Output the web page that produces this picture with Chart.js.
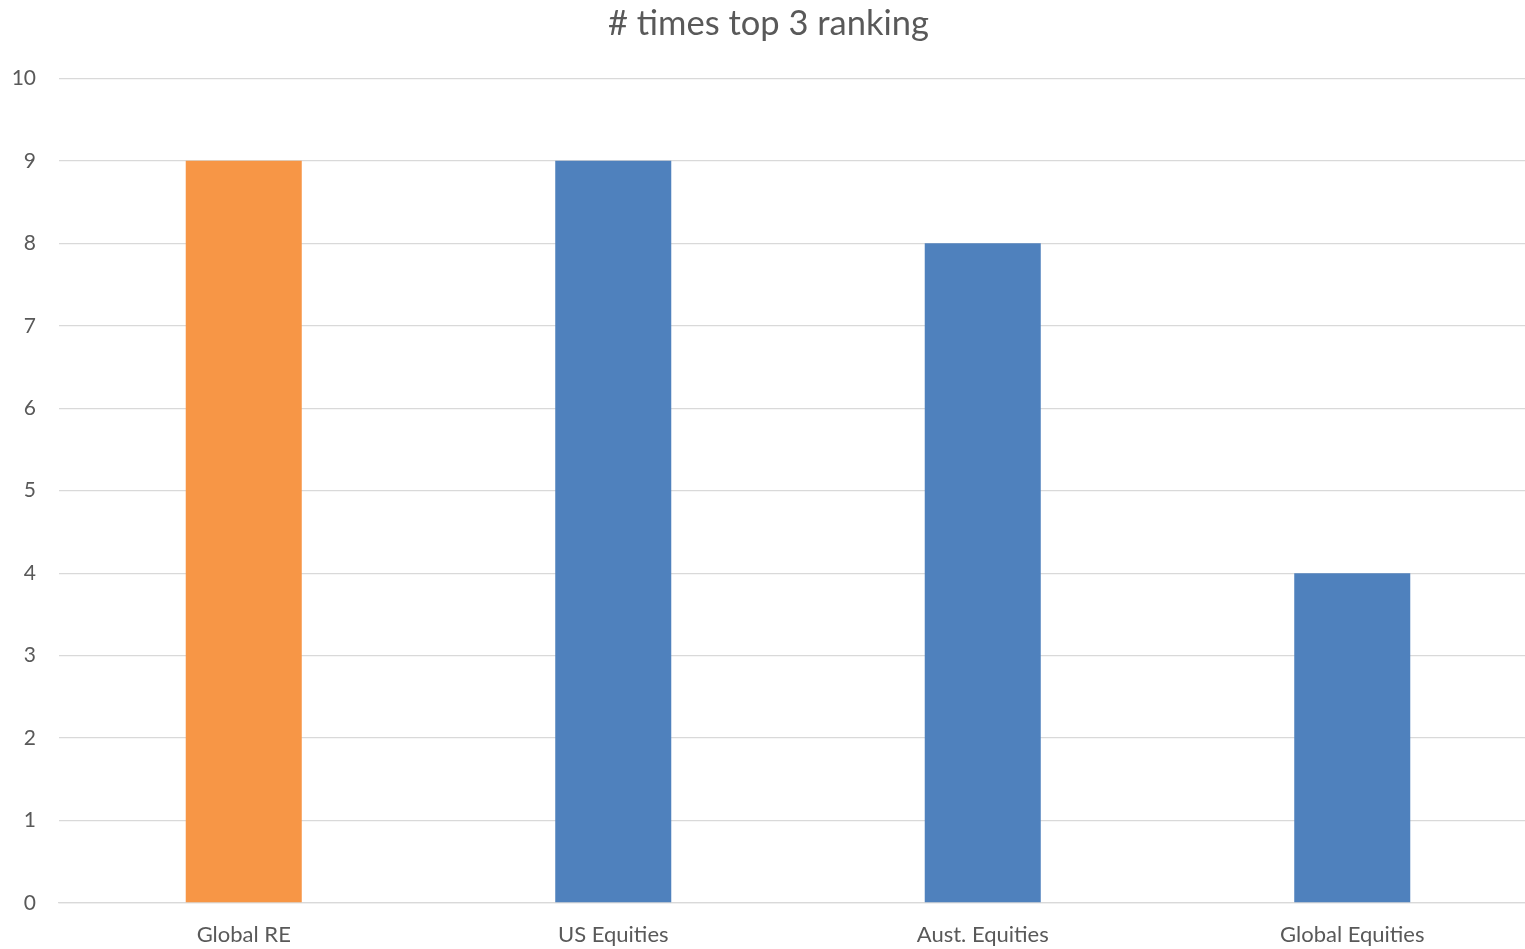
<!DOCTYPE html>
<html>
<head>
<meta charset="utf-8">
<script src="https://cdn.jsdelivr.net/npm/chart.js@4"></script>
<style>
  html, body { margin: 0; padding: 0; background: #fff; overflow: hidden; }
  #wrap { width: 1537px; height: 949px; position: relative; }
</style>
</head>
<body>
<div id="wrap"><canvas id="chart"></canvas></div>
<script>
var categories = ["Global RE", "US Equities", "Aust. Equities", "Global Equities"];
var topThreeCounts = [9, 9, 8, 4];
var barColors = ["#F79646", "#4F81BD", "#4F81BD", "#4F81BD"];

var ctx = document.getElementById('chart').getContext('2d');
var myChart = new Chart(ctx, {
    type: 'bar',
    data: {
        labels: categories,
        datasets: [{
            label: '# times top 3 ranking',
            data: topThreeCounts,
            backgroundColor: barColors,
            borderWidth: 0,
            barPercentage: 1,
            categoryPercentage: 0.314
        }]
    },
    options: {
        animation: false,
        responsive: true,
        maintainAspectRatio: false,
        layout: { padding: { left: 0, right: 0, top: 0, bottom: 0 } },
        plugins: {
            legend: { display: false },
            tooltip: { enabled: false },
            title: {
                display: true,
                text: '# times top 3 ranking',
                color: '#595959',
                font: { family: 'Lato', size: 34.5, weight: 'normal' },
                padding: { top: 3, bottom: 34 }
            }
        },
        scales: {
            x: {
                grid: { display: false, drawTicks: false },
                border: { display: true, color: '#D9D9D9', width: 1.3 },
                ticks: {
                    color: '#595959',
                    font: { family: 'Lato', size: 22 },
                    padding: 19
                },
                afterFit: function(scale) { scale.height = 46; }
            },
            y: {
                min: 0,
                max: 10,
                ticks: {
                    stepSize: 1,
                    color: '#595959',
                    font: { family: 'Lato', size: 21 },
                    padding: 23
                },
                grid: { color: '#D9D9D9', lineWidth: 1.3, drawTicks: false },
                border: { display: false },
                afterFit: function(scale) { scale.width = 59; }
            }
        }
    }
});
</script>
</body>
</html>
